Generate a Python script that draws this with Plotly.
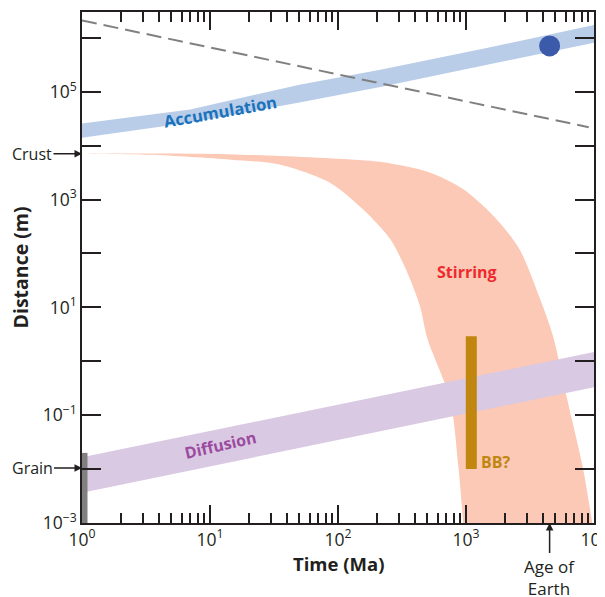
import plotly.graph_objects as go
import numpy as np

# ---------------- data ----------------
# Accumulation band (time in Ma, distance in m)
acc_t = [1, 7, 50, 214, 1450, 10000]
acc_upper = [25700, 46800, 135000, 257000, 646000, 1740000]
acc_lower = [14100, 26900, 63100, 123000, 316000, 813000]

# Stirring band
stir_up_t = [1, 8.3, 35, 100, 214, 525, 955, 1740, 2630, 3800, 4790, 6170, 8130, 9770, 11400]
stir_up_d = [7080, 7080, 6460, 5750, 5010, 3160, 1550, 427, 117, 14.1, 2.9, 0.2, 0.0115, 0.0009, 0.0001]
stir_lo_t = [1, 3.4, 14.5, 35, 87, 158, 257, 347, 437, 501, 750, 871, 955, 1033]
stir_lo_d = [7080, 6760, 5500, 4470, 2040, 646, 182, 44.7, 10.5, 2.57, 0.2, 0.0115, 0.0009, 0.0001]

# Diffusion band
diff_t = [1, 10000]
diff_upper = [0.0166, 1.48]
diff_lower = [0.00363, 0.331]

# Dashed line
dash_t = [1, 9100]
dash_d = [2.1e6, 2.2e4]

# Markers / bars
dot_t = [4500]
dot_d = [7.1e5]
grain_t = [1, 1]
grain_d = [0.001, 0.02]
bb_t = [1100, 1100]
bb_d = [0.01, 2.9]

crust_d = 7080
grain_level = 0.0105
earth_age = 4500

x_ticks = [1, 10, 100, 1000, 10000]
x_labels = ["10<sup>0</sup>", "10<sup>1</sup>", "10<sup>2</sup>", "10<sup>3</sup>", "10<sup>4</sup>"]
y_exps = list(range(-3, 7))
y_labels = ["10<sup>%d</sup>" % e if e % 2 != 0 else " " for e in y_exps]
y_labels = [s.replace("-", "\u2212") for s in y_labels]

# ---------------- figure ----------------
FONT = "Open Sans"
INK = "#231f20"

fig = go.Figure()

# stirring band
fig.add_trace(go.Scatter(
    x=stir_up_t + stir_lo_t[::-1], y=stir_up_d + stir_lo_d[::-1],
    fill="toself", fillcolor="#fbc9b5",
    line=dict(width=0, shape="spline", smoothing=0.8), mode="lines",
    hoverinfo="skip", showlegend=False))

# accumulation band
fig.add_trace(go.Scatter(
    x=acc_t + acc_t[::-1], y=acc_upper + acc_lower[::-1],
    fill="toself", fillcolor="#b9cde9", line=dict(width=0), mode="lines",
    hoverinfo="skip", showlegend=False))

# dashed line
fig.add_trace(go.Scatter(
    x=dash_t, y=dash_d, mode="lines",
    line=dict(color="#808080", width=2, dash="15px,7px"),
    hoverinfo="skip", showlegend=False))

# diffusion band
fig.add_trace(go.Scatter(
    x=diff_t + diff_t[::-1], y=diff_upper + diff_lower[::-1],
    fill="toself", fillcolor="#d9c9e3", line=dict(width=0), mode="lines",
    hoverinfo="skip", showlegend=False))

# grain bar
fig.add_trace(go.Scatter(
    x=grain_t, y=grain_d, mode="lines",
    line=dict(color="#808080", width=11),
    hoverinfo="skip", showlegend=False))

# BB bar
fig.add_trace(go.Scatter(
    x=bb_t, y=bb_d, mode="lines",
    line=dict(color="#c1860f", width=11),
    hoverinfo="skip", showlegend=False))

# age of earth dot
fig.add_trace(go.Scatter(
    x=dot_t, y=dot_d, mode="markers",
    marker=dict(color="#3b5aa9", size=21, line=dict(width=0)),
    hoverinfo="skip", showlegend=False, cliponaxis=False))

axis_common = dict(
    type="log", showgrid=False, zeroline=False,
    showline=True, linecolor=INK, linewidth=1.5,
    ticks="inside", tickcolor=INK, tickwidth=1.5,
    mirror="ticks", automargin=False,
    ticklabeloverflow="allow",
    tickfont=dict(family=FONT, size=17.5, color=INK),
)

fig.update_xaxes(
    **axis_common,
    range=[0, 4],
    tickmode="array", tickvals=x_ticks, ticktext=x_labels, ticklen=18,
    minor=dict(ticks="inside", ticklen=10, tickcolor=INK, tickwidth=1.5,
               tickmode="array",
               tickvals=[m * 10 ** d for d in range(0, 4) for m in range(2, 10)]),
)
fig.update_yaxes(
    **axis_common,
    range=[-3, 6.48],
    tickmode="array", tickvals=[10.0 ** e for e in y_exps], ticktext=y_labels, ticklen=19,
)

anns = []
# axis titles
anns.append(dict(text="<b>Time (Ma)</b>", xref="paper", yref="paper", x=0.5, y=0,
                 xanchor="center", yanchor="middle",
                 yshift=-40, showarrow=False, font=dict(family=FONT, size=18.5, color=INK)))
anns.append(dict(text="<b>Distance (m)</b>", xref="paper", yref="paper", x=0, y=0.5,
                 xanchor="center", yanchor="middle",
                 xshift=-62, textangle=-90, showarrow=False,
                 font=dict(family=FONT, size=19.5, color=INK)))
# band labels
anns.append(dict(text="<b>Accumulation</b>", x=np.log10(12), y=4.63, textangle=-10,
                 showarrow=False, font=dict(family=FONT, size=16.5, color="#1a72bb")))
anns.append(dict(text="<b>Stirring</b>", x=np.log10(1020), y=1.65,
                 showarrow=False, font=dict(family=FONT, size=16, color="#ee2a2e")))
anns.append(dict(text="<b>Diffusion</b>", x=np.log10(12), y=-1.56, textangle=-13,
                 showarrow=False, font=dict(family=FONT, size=16, color="#9b4a9f")))
anns.append(dict(text="<b>BB?</b>", x=np.log10(1700), y=-1.87,
                 showarrow=False, font=dict(family=FONT, size=16, color="#c1860f")))
# side arrows
for label, val in [("Crust", crust_d), ("Grain", grain_level)]:
    anns.append(dict(text=label, xref="paper", x=0, y=np.log10(val),
                     showarrow=True, ax=-50, ay=0, arrowhead=2, arrowsize=1,
                     arrowwidth=1.5, arrowcolor=INK,
                     font=dict(family=FONT, size=16, color=INK)))
# age of earth
anns.append(dict(text="Age of<br>Earth", x=np.log10(earth_age), yref="paper", y=0,
                 showarrow=True, ax=0, ay=54, arrowhead=2, arrowsize=1,
                 arrowwidth=1.5, arrowcolor=INK,
                 font=dict(family=FONT, size=17, color=INK)))

# the page body adds an 8px margin, so the figure is sized to fit the 605x597 window
fig.update_layout(
    width=597, height=589,
    margin=dict(l=74, r=11, t=4, b=74, pad=0, autoexpand=False),
    plot_bgcolor="white", paper_bgcolor="white",
    annotations=anns,
    showlegend=False,
)

fig.write_html("out.html")
